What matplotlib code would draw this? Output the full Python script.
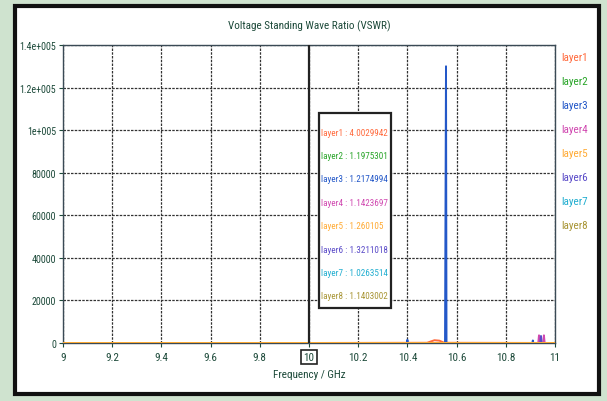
import matplotlib
matplotlib.use('Agg')
import matplotlib.pyplot as plt
from matplotlib.patches import Rectangle
import logging

logging.getLogger('matplotlib.font_manager').setLevel(logging.ERROR)
plt.rcParams['font.family'] = ['Roboto Condensed', 'Liberation Sans Narrow', 'DejaVu Sans']

# 레이어 이름 / 색상
layers = ['layer1', 'layer2', 'layer3', 'layer4', 'layer5', 'layer6', 'layer7', 'layer8']
colors = ['#ff6a3d', '#2aa52a', '#2458c8', '#d048b0', '#ffab35', '#5a4bc8', '#22aed0', '#a89535']

# 마커 위치(10 GHz)에서의 VSWR 값
marker_freq = 10.0
marker_vals = ['4.0029942', '1.1975301', '1.2174994', '1.1423697',
               '1.260105', '1.3211018', '1.0263514', '1.1403002']

# 각 레이어의 주파수 / VSWR
freq = {
    'layer1': [9.0, 10.0, 10.48, 10.51, 10.53, 10.55, 11.0],
    'layer2': [9.0, 10.0, 11.0],
    'layer3': [9.0, 10.0, 10.398, 10.40, 10.402, 10.553, 10.555, 10.557, 10.559, 10.908, 10.91, 10.912, 11.0],
    'layer4': [9.0, 10.0, 10.932, 10.935, 10.938, 10.952, 10.955, 10.958, 11.0],
    'layer5': [9.0, 10.0, 11.0],
    'layer6': [9.0, 10.0, 10.94, 10.943, 10.946, 11.0],
    'layer7': [9.0, 10.0, 11.0],
    'layer8': [9.0, 10.0, 11.0],
}
vswr = {
    'layer1': [4.0, 4.0, 100, 1300, 1100, 100, 4.0],
    'layer2': [1.2, 1.2, 1.2],
    'layer3': [1.2, 1.2, 1.2, 1500, 1.2, 1.2, 65000, 130000, 1.2, 1.2, 1200, 1.2, 1.2],
    'layer4': [1.1, 1.1, 1.1, 3600, 1.1, 1.1, 3600, 1.1, 1.1],
    'layer5': [1.3, 1.3, 1.3],
    'layer6': [1.3, 1.3, 1.3, 3300, 1.3, 1.3],
    'layer7': [1.0, 1.0, 1.0],
    'layer8': [1.1, 1.1, 1.1],
}

xticks = [9, 9.2, 9.4, 9.6, 9.8, 10, 10.2, 10.4, 10.6, 10.8, 11]
xticklabels = ['9', '9.2', '9.4', '9.6', '9.8', '10', '10.2', '10.4', '10.6', '10.8', '11']
yticks = [0, 20000, 40000, 60000, 80000, 100000, 120000, 140000]
yticklabels = ['0', '20000', '40000', '60000', '80000', '1e+005', '1.2e+005', '1.4e+005']

txt_col = '#1d4a3a'

fig = plt.figure(figsize=(6.07, 4.02), dpi=100, facecolor='#cfe3cf')
# 바깥 흰색 패널 + 두꺼운 테두리
fig.patches.append(Rectangle((0.025, 0.018), 0.962, 0.965, transform=fig.transFigure,
                             facecolor='white', edgecolor='#111111', linewidth=3, zorder=-10))

ax = fig.add_axes([0.1038, 0.1443, 0.8105, 0.7413])
ax.set_zorder(2)
ax.set_facecolor('white')
for name, c in zip(layers, colors):
    z = 3 if name == 'layer5' else 2
    ax.plot(freq[name], vswr[name], color=c, linewidth=1.4, zorder=z)

ax.axvline(marker_freq, color='#222222', linewidth=1.6, zorder=4)

ax.set_xlim(9, 11)
ax.set_ylim(0, 140000)
ax.set_xticks(xticks)
ax.set_xticklabels(xticklabels)
ax.set_yticks(yticks)
ax.set_yticklabels(yticklabels)
ax.tick_params(labelsize=8, colors=txt_col, length=3, width=0.8)
ax.tick_params(axis='y', labelsize=7.2, pad=2)
for t in ax.get_xticklabels():
    if t.get_text() == '10':
        t.set_bbox(dict(facecolor='white', edgecolor='#222222', linewidth=1.2, pad=1.5))
ax.grid(True, color='#333333', linestyle=(0, (2, 1)), linewidth=0.9)
for s in ax.spines.values():
    s.set_color('#3a4a55')
    s.set_linewidth(1.0)

ax.set_title('Voltage Standing Wave Ratio (VSWR)', fontsize=8, color=txt_col, pad=12)
ax.set_xlabel('Frequency / GHz', fontsize=8, color=txt_col, labelpad=5)

# 오른쪽 범례
for i, (name, c) in enumerate(zip(layers, colors)):
    fig.text(0.924, 0.855 - i * 0.0595, name, color=c, fontsize=8, va='center')

# 마커 값 박스
ax.add_patch(Rectangle((0.525, 0.232), 0.119, 0.484, transform=fig.transFigure,
                       facecolor='white', edgecolor='#222222', linewidth=1.6, zorder=5))
for i, (name, c, v) in enumerate(zip(layers, colors, marker_vals)):
    ax.text(0.5295, 0.669 - i * 0.0582, f'{name} : {v}', color=c, fontsize=6.6, va='center',
            transform=fig.transFigure, zorder=6)

plt.savefig('out.png', dpi=100, facecolor=fig.get_facecolor())
